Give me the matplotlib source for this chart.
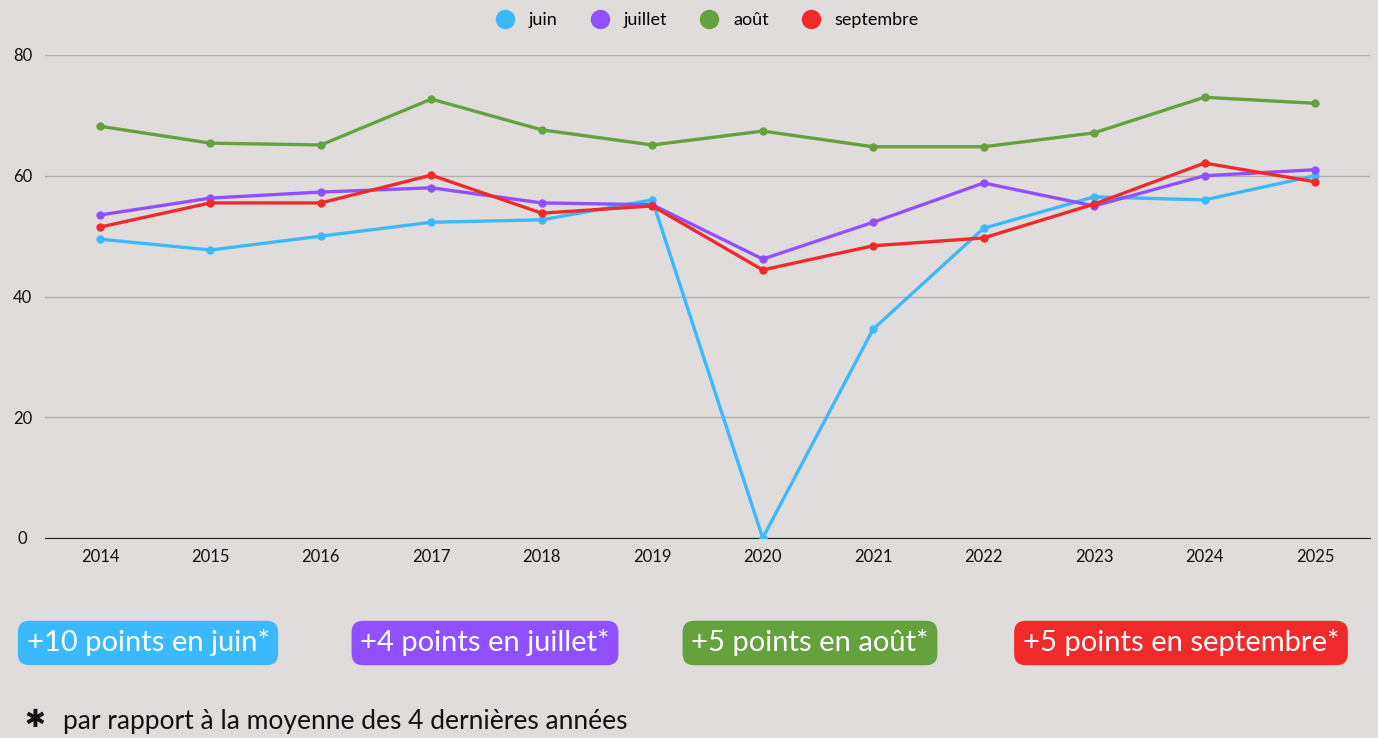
import numpy as np
from matplotlib import pyplot as plt
from matplotlib.lines import Line2D

years = [2014, 2015, 2016, 2017, 2018, 2019, 2020, 2021, 2022, 2023, 2024, 2025]
juin = [49.5, 47.7, 50.0, 52.3, 52.7, 56.0, 0.0, 34.6, 51.3, 56.5, 56.0, 60.0]
juillet = [53.5, 56.3, 57.3, 58.0, 55.5, 55.2, 46.2, 52.3, 58.8, 55.0, 60.0, 61.0]
aout = [68.2, 65.4, 65.1, 72.7, 67.6, 65.1, 67.4, 64.8, 64.8, 67.1, 73.0, 72.0]
septembre = [51.5, 55.5, 55.5, 60.1, 53.8, 55.0, 44.4, 48.4, 49.7, 55.3, 62.1, 59.0]

series_names = ['juin', 'juillet', 'août', 'septembre']
badges = ['+10 points en juin*', '+4 points en juillet*', '+5 points en août*', '+5 points en septembre*']
colors = ['#3BB9FF', '#9150FF', '#65A13C', '#F02A2A']
bg = '#E1DCDC'

plt.rcParams['font.family'] = ['Lato', 'DejaVu Sans']

fig = plt.figure(figsize=(13.78, 7.38), dpi=100, facecolor=bg)
ax = fig.add_axes([45 / 1378, 1 - 538 / 738, 1325 / 1378, (538 - 55) / 738], facecolor=bg)

x = np.arange(len(years))
for vals, c in zip([juin, juillet, aout, septembre], colors):
    ax.plot(x, vals, color=c, lw=2.4, marker='o', ms=5, zorder=3)

ax.set_ylim(0, 80)
ax.set_xlim((45 - 100) / 110.45, (1370 - 100) / 110.45)
ax.set_yticks([0, 20, 40, 60, 80])
ax.set_xticks(x, [str(y) for y in years])
ax.grid(axis='y', color='#B3AEAE', lw=1)
ax.set_axisbelow(True)
for s in ['top', 'right', 'left']:
    ax.spines[s].set_visible(False)
ax.spines['bottom'].set_color('#222222')
ax.tick_params(axis='both', length=0, labelsize=12, colors='#111111')
ax.tick_params(axis='x', pad=8)
for lab in ax.get_yticklabels():
    lab.set_horizontalalignment('center')
ax.yaxis.set_tick_params(pad=16)

# légende en haut, marqueurs ronds seuls
handles = [Line2D([], [], ls='', marker='o', ms=13, color=c) for c in colors]
fig.legend(handles, series_names, loc='center', bbox_to_anchor=(0.5 + 14 / 1378, 1 - 20 / 738), ncol=4,
           frameon=False, fontsize=13, handletextpad=0.3, columnspacing=1.35)

# pastilles de couleur sous le graphique
centers = [148, 485, 810, 1181]
for cx, txt, c in zip(centers, badges, colors):
    fig.text(cx / 1378, 1 - 643 / 738, txt, ha='center', va='center', fontsize=21, color='white',
             bbox=dict(boxstyle='round,pad=0.3,rounding_size=0.4', fc=c, ec='none'))

fig.text(35 / 1378, 1 - 720 / 738, '✱', ha='center', va='center', fontsize=18, color='#111111',
         family=['DejaVu Sans'])
fig.text(63 / 1378, 1 - 722 / 738, 'par rapport à la moyenne des 4 dernières années', ha='left',
         va='center', fontsize=19, color='#111111')

fig.savefig('out.png', dpi=100, facecolor=bg)
